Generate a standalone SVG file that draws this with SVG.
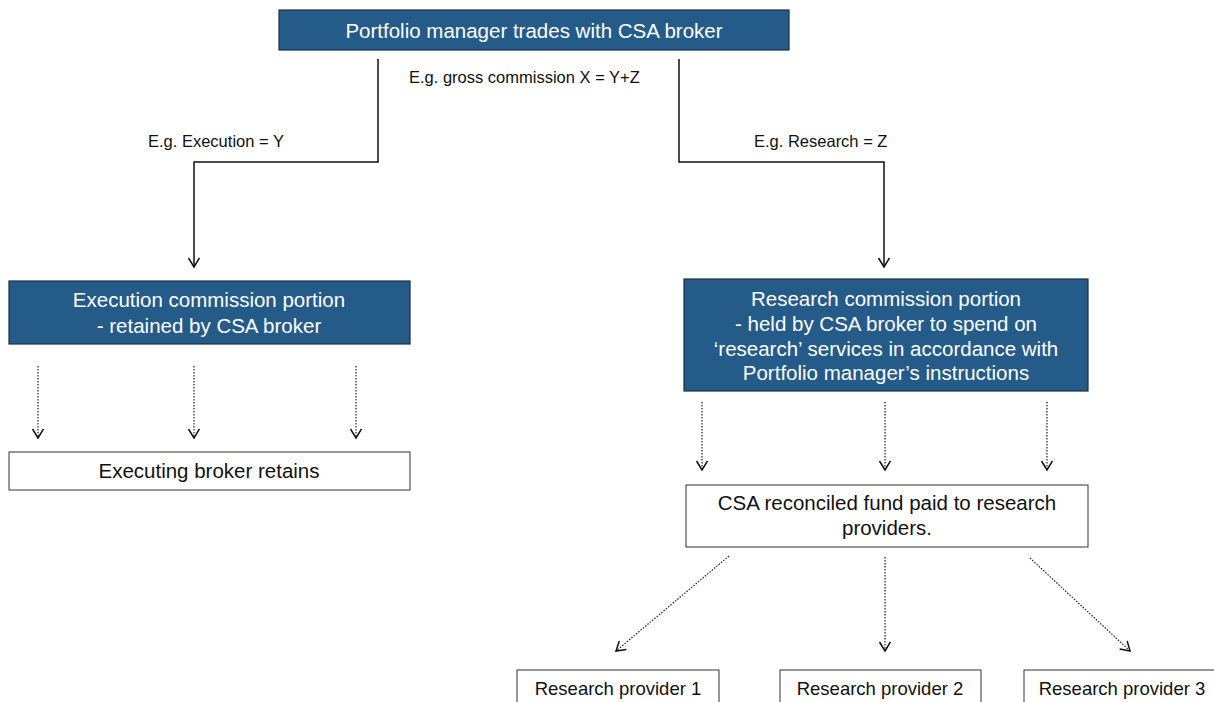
<svg xmlns="http://www.w3.org/2000/svg" width="1214" height="702" viewBox="0 0 1214 702">
<style>
.blue{fill:#255b89;stroke:#1c2f44;stroke-width:1.2}
.white{fill:#ffffff;stroke:#333333;stroke-width:1}
.wt{font-family:"Liberation Sans",Arial,sans-serif;font-size:20.5px;fill:#ffffff;text-anchor:middle}
.bt{font-family:"Liberation Sans",Arial,sans-serif;font-size:20.5px;fill:#111111;text-anchor:middle}
.pt{font-family:"Liberation Sans",Arial,sans-serif;font-size:18.5px;fill:#111111;text-anchor:middle}
.lbl{font-family:"Liberation Sans",Arial,sans-serif;font-size:16.5px;fill:#111111}
.solid{fill:none;stroke:#111111;stroke-width:1.5}
.dot{fill:none;stroke:#222222;stroke-width:1.2;stroke-dasharray:1.5 1.5}
</style>
<defs>
<marker id="arr" markerWidth="14" markerHeight="14" refX="10" refY="6" orient="auto" markerUnits="userSpaceOnUse">
<path d="M1,0.5 L10,6 L1,11.5" fill="none" stroke="#111111" stroke-width="1.5"/>
</marker>
</defs>
<g id="top"><rect class="blue" x="279" y="10" width="510" height="40"/><text class="wt" x="534" y="38">Portfolio manager trades with CSA broker</text></g>
<g id="exec"><rect class="blue" x="9" y="281" width="401" height="63"/><text class="wt" x="209" y="307">Execution commission portion</text><text class="wt" x="209" y="333">- retained by CSA broker</text></g>
<g id="research"><rect class="blue" x="684" y="279" width="404" height="112"/><text class="wt" x="886" y="306">Research commission portion</text><text class="wt" x="886" y="331">- held by CSA broker to spend on</text><text class="wt" x="886" y="356">‘research’ services in accordance with</text><text class="wt" x="886" y="380">Portfolio manager’s instructions</text></g>
<g id="retain"><rect class="white" x="9" y="452" width="401" height="38"/><text class="bt" x="209" y="478">Executing broker retains</text></g>
<g id="csa"><rect class="white" x="686" y="485" width="402" height="62"/><text class="bt" x="887" y="510">CSA reconciled fund paid to research</text><text class="bt" x="887" y="535">providers.</text></g>
<g id="p1"><rect class="white" x="517" y="670" width="202" height="40"/><text class="pt" x="618" y="695">Research provider 1</text></g>
<g id="p2"><rect class="white" x="780" y="670" width="201" height="40"/><text class="pt" x="880" y="695">Research provider 2</text></g>
<g id="p3"><rect class="white" x="1024" y="670" width="200" height="40"/><text class="pt" x="1122" y="695">Research provider 3</text></g>
<g id="connectors">
<path class="solid" d="M378,59 V162 H194 V267" marker-end="url(#arr)"/>
<path class="solid" d="M679,59 V162 H884 V267" marker-end="url(#arr)"/>
<path class="dot" d="M38,366 V438" marker-end="url(#arr)"/>
<path class="dot" d="M194,366 V438" marker-end="url(#arr)"/>
<path class="dot" d="M356,366 V438" marker-end="url(#arr)"/>
<path class="dot" d="M702,402 V470" marker-end="url(#arr)"/>
<path class="dot" d="M885,402 V470" marker-end="url(#arr)"/>
<path class="dot" d="M1047,402 V470" marker-end="url(#arr)"/>
<path class="dot" d="M729,556 L616,651" marker-end="url(#arr)"/>
<path class="dot" d="M885,557 V651" marker-end="url(#arr)"/>
<path class="dot" d="M1030,558 L1130,651" marker-end="url(#arr)"/>
<text class="lbl" x="409" y="83">E.g. gross commission X = Y+Z</text>
<text class="lbl" x="148" y="147">E.g. Execution = Y</text>
<text class="lbl" x="754" y="147">E.g. Research = Z</text>
</g>
</svg>
